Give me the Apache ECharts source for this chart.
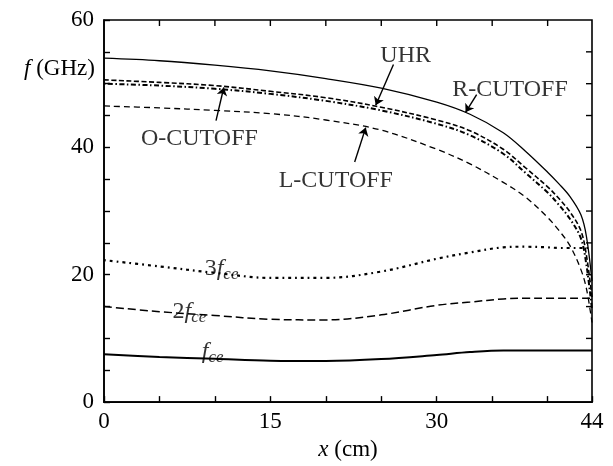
<!DOCTYPE html>
<html>
<head>
<meta charset="utf-8">
<script src="https://cdn.jsdelivr.net/npm/echarts@6/dist/echarts.min.js"></script>
<style>
  html, body { margin: 0; padding: 0; background: #fff; }
  #chart { width: 613px; height: 466px; }
</style>
</head>
<body>
<div id="chart"></div>
<script>
// Radial position across the plasma (cm)
const xCm = [0, 5, 10, 15, 20, 25, 30, 33, 36, 38, 40, 41, 42, 43, 43.5, 44];

// Characteristic frequencies (GHz)
const rCutoff = [54.0, 53.6, 52.9, 52.0, 50.8, 49.3, 47.1, 45.2, 42.3, 39.4, 36.1, 34.3, 32.3, 29.4, 26.0, 19.0];
const uhr     = [50.6, 50.2, 49.7, 48.8, 47.8, 46.3, 44.3, 42.6, 39.7, 36.8, 33.8, 32.0, 29.9, 26.9, 23.0, 16.5];
const oCutoff = [50.0, 49.7, 49.2, 48.4, 47.3, 45.8, 43.7, 41.9, 39.0, 36.0, 32.9, 31.0, 28.8, 25.7, 21.5, 14.5];
const lCutoff = [46.5, 46.2, 45.8, 45.3, 44.3, 42.7, 39.7, 37.4, 34.5, 32.2, 29.0, 27.0, 24.6, 20.8, 17.8, 12.5];
const fce1    = [7.5, 7.1, 6.8, 6.5, 6.45, 6.75, 7.4, 7.85, 8.1, 8.1, 8.1, 8.1, 8.1, 8.1, 8.1, 8.1];
const fce2    = [15.0, 14.2, 13.6, 13.0, 12.9, 13.7, 15.2, 15.7, 16.2, 16.3, 16.3, 16.3, 16.3, 16.3, 16.3, 16.3];
const fce3    = [22.3, 21.3, 20.3, 19.5, 19.5, 20.5, 22.5, 23.5, 24.3, 24.4, 24.3, 24.2, 24.2, 24.2, 24.2, 24.2];

// Axis labels
const xTickLabels = [0, 15, 30, 44];
const yTickLabels = [0, 20, 40, 60];

const X_MAX = 44;
const Y_MAX = 60;
const STEP = 5;
const TICK_LEN = 6;
const TICK_WIDTH = 1.4;

const SERIF = '"Liberation Serif", "DejaVu Serif", serif';
const pairs = vals => xCm.map((x, i) => [x, vals[i]]);

function curve(name, vals, width, dash) {
  return {
    name, type: 'line', data: pairs(vals),
    smooth: 0.35, showSymbol: false, symbol: 'none', silent: true,
    lineStyle: { color: '#000', width, type: dash || 'solid', cap: 'butt' },
    z: 3
  };
}

// Tick values for the top and right edges of the frame
const stepsUpTo = max => { const out = []; for (let v = STEP; v < max; v += STEP) out.push(v); return out; };

// Inward ticks along the top (x values) and right (y values) edges, placed through the axes' scales
function frameTicks(edge) {
  const values = edge === 'top' ? stepsUpTo(X_MAX) : stepsUpTo(Y_MAX);
  return {
    type: 'custom', silent: true, clip: false, z: 6,
    data: values.map(v => edge === 'top' ? [v, Y_MAX] : [X_MAX, v]),
    encode: { x: 0, y: 1 },
    renderItem: (params, api) => {
      const p = api.coord([api.value(0), api.value(1)]);
      const shape = edge === 'top'
        ? { x1: p[0], y1: p[1], x2: p[0], y2: p[1] + TICK_LEN }
        : { x1: p[0], y1: p[1], x2: p[0] - TICK_LEN, y2: p[1] };
      return { type: 'line', shape, style: { stroke: '#000', lineWidth: TICK_WIDTH } };
    }
  };
}

// Annotation arrows (data coordinates: tail -> head)
const arrowSeries = {
  type: 'lines', coordinateSystem: 'cartesian2d',
  silent: true, symbol: ['none', 'arrow'], symbolSize: 8,
  lineStyle: { color: '#000', width: 1.4, opacity: 1, curveness: 0 },
  data: [
    { coords: [[26.1, 53.0], [24.5, 46.6]] },
    { coords: [[33.6, 48.3], [32.6, 45.5]] },
    { coords: [[10.1, 44.2], [10.8, 49.4]] },
    { coords: [[22.6, 37.7], [23.6, 43.1]] }
  ],
  z: 4
};

const rich = {
  t: { fontFamily: SERIF, fontSize: 24, color: '#000' },
  i: { fontFamily: SERIF, fontSize: 24, fontStyle: 'italic', color: '#000' },
  s: { fontFamily: SERIF, fontSize: 17, fontStyle: 'italic', color: '#000', padding: [12, 0, 0, 0] }
};
const axRich = {
  t: { fontFamily: SERIF, fontSize: 23, color: '#000' },
  i: { fontFamily: SERIF, fontSize: 23, fontStyle: 'italic', color: '#000' }
};

// Text annotations anchored in data coordinates
const textSeries = {
  type: 'scatter', symbolSize: 0, silent: true,
  label: {
    show: true, position: [0, 0], align: 'center', verticalAlign: 'middle',
    formatter: p => p.data.text, rich, color: '#000', textBorderWidth: 0
  },
  data: [
    { value: [27.2, 54.4], text: '{t|UHR}' },
    { value: [36.6, 49.1], text: '{t|R-CUTOFF}' },
    { value: [8.6, 41.4], text: '{t|O-CUTOFF}' },
    { value: [20.9, 34.8], text: '{t|L-CUTOFF}' },
    { value: [10.6, 21.0], text: '{t|3}{i|f}{s|ce}' },
    { value: [7.7, 14.2], text: '{t|2}{i|f}{s|ce}' },
    { value: [9.8, 7.9], text: '{i|f}{s|ce}' }
  ],
  z: 5
};

const tickStyle = { show: true, inside: true, length: TICK_LEN, lineStyle: { color: '#000', width: TICK_WIDTH } };
const axisLineStyle = { show: true, onZero: false, lineStyle: { color: '#000', width: 1.6 } };

const chart = echarts.init(document.getElementById('chart'), null, { renderer: 'canvas' });
chart.setOption({
  animation: false,
  backgroundColor: '#fff',
  grid: {
    left: 104, right: 21, top: 20, bottom: 47, containLabel: false,
    show: true, borderColor: '#000', borderWidth: 1.6, backgroundColor: 'transparent'
  },
  xAxis: {
    type: 'value', position: 'bottom', min: 0, max: X_MAX, interval: STEP,
    axisLine: axisLineStyle, axisTick: tickStyle, splitLine: { show: false },
    axisLabel: {
      show: true, showMaxLabel: true, showMinLabel: true, margin: 8,
      fontFamily: SERIF, fontSize: 23, color: '#000',
      formatter: v => xTickLabels.includes(v) ? String(v) : ''
    },
    name: '{i|x}{t| (cm)}', nameLocation: 'middle', nameGap: 30,
    nameTextStyle: { rich: axRich }
  },
  yAxis: {
    type: 'value', position: 'left', min: 0, max: Y_MAX, interval: STEP,
    axisLine: axisLineStyle, axisTick: tickStyle, splitLine: { show: false },
    axisLabel: {
      show: true, margin: 10, fontFamily: SERIF, fontSize: 23, color: '#000',
      formatter: v => yTickLabels.includes(v) ? String(v) : ''
    }
  },
  graphic: [
    {
      type: 'text', left: 24, top: 57,
      style: { text: '{i|f}{t| (GHz)}', rich: axRich, fill: '#000' }
    }
  ],
  series: [
    curve('R-CUTOFF', rCutoff, 1.3, 'solid'),
    curve('UHR', uhr, 1.6, [5, 2.5]),
    curve('O-CUTOFF', oCutoff, 2.0, [1.5, 2.5, 5, 2.5]),
    curve('L-CUTOFF', lCutoff, 1.3, [6, 4]),
    curve('3fce', fce3, 2.2, [1.8, 4, 3, 4]),
    curve('2fce', fce2, 1.5, [8, 4]),
    curve('fce', fce1, 2.0, 'solid'),
    frameTicks('top'),
    frameTicks('right'),
    arrowSeries,
    textSeries
  ]
});
</script>
</body>
</html>
